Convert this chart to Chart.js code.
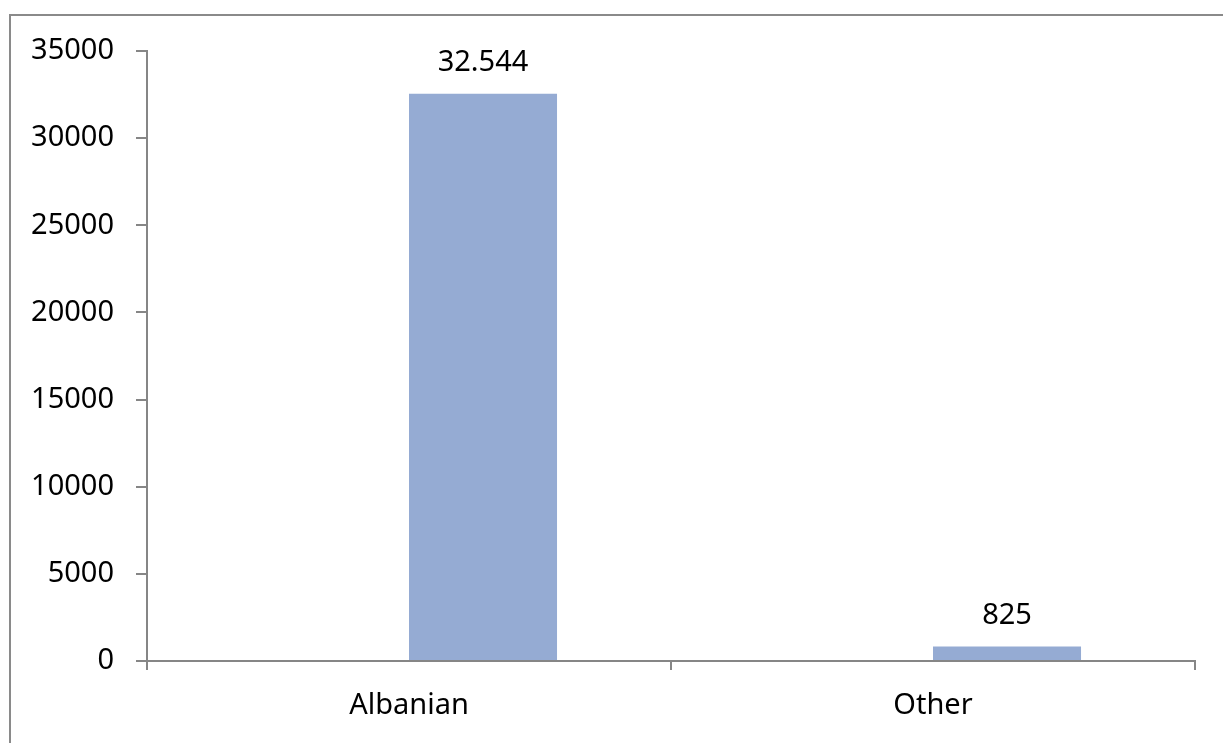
<!DOCTYPE html>
<html>
<head>
<meta charset="utf-8">
<script src="https://cdn.jsdelivr.net/npm/chart.js@4/dist/chart.umd.min.js"></script>
<style>
  html, body { margin: 0; padding: 0; background: #fff; }
  #wrap { width: 1223px; height: 743px; position: relative; }
</style>
</head>
<body>
<div id="wrap"><canvas id="c" width="1223" height="743"></canvas></div>
<script>
const categories = ["Albanian", "Other"];
const values = [32544, 825];
const emptySeries = [null, null];
const valueLabels = ["32.544", "825"];
const yTicks = [0, 5000, 10000, 15000, 20000, 25000, 30000, 35000];

const FONT = "'Noto Sans', 'Open Sans', sans-serif";
const AXIS = "#868686";

const frame = {
  id: 'frame',
  beforeDraw(chart) {
    const ctx = chart.ctx;
    ctx.save();
    ctx.fillStyle = '#fff';
    ctx.fillRect(0, 0, chart.width, chart.height);
    ctx.strokeStyle = '#8a8a8a';
    ctx.lineWidth = 2;
    ctx.strokeRect(10, 15, chart.width + 20, chart.height + 20);
    ctx.restore();
  }
};

const dataLabels = {
  id: 'dataLabels',
  afterDatasetsDraw(chart) {
    const ctx = chart.ctx;
    const meta = chart.getDatasetMeta(1);
    ctx.save();
    ctx.fillStyle = '#000';
    ctx.font = "29px " + FONT;
    ctx.textAlign = 'center';
    ctx.textBaseline = 'alphabetic';
    meta.data.forEach((bar, i) => {
      ctx.fillText(valueLabels[i], bar.x, bar.y - 23);
    });
    ctx.restore();
  }
};

new Chart(document.getElementById('c'), {
  type: 'bar',
  data: {
    labels: categories,
    datasets: [
      {
        data: emptySeries,
        backgroundColor: 'rgba(0,0,0,0)',
        borderWidth: 0,
        categoryPercentage: 0.565,
        barPercentage: 1.0
      },
      {
        data: values,
        backgroundColor: 'rgb(149,171,211)',
        borderWidth: 0,
        categoryPercentage: 0.565,
        barPercentage: 1.0
      }
    ]
  },
  options: {
    responsive: false,
    animation: false,
    devicePixelRatio: 1,
    layout: { padding: { top: 51, right: 28, left: 0, bottom: 0 } },
    plugins: { legend: { display: false }, tooltip: { enabled: false } },
    scales: {
      y: {
        min: 0, max: 35000,
        afterFit(s) { s.width = 147; },
        afterBuildTicks(s) { s.ticks = yTicks.map(v => ({ value: v })); },
        border: { display: true, color: AXIS, width: 2 },
        grid: { drawOnChartArea: false, drawTicks: true, tickLength: 11, color: AXIS, lineWidth: 2 },
        ticks: {
          color: '#000', font: { family: FONT, size: 29 }, padding: 22,
          callback: (v) => String(v)
        }
      },
      x: {
        afterFit(s) { s.height = 82; },
        border: { display: true, color: AXIS, width: 2 },
        grid: { offset: true, drawOnChartArea: false, drawTicks: true, tickLength: 9, color: AXIS, lineWidth: 2 },
        ticks: { color: '#000', font: { family: FONT, size: 29 }, padding: 18 }
      }
    }
  },
  plugins: [frame, dataLabels]
});
</script>
</body>
</html>
